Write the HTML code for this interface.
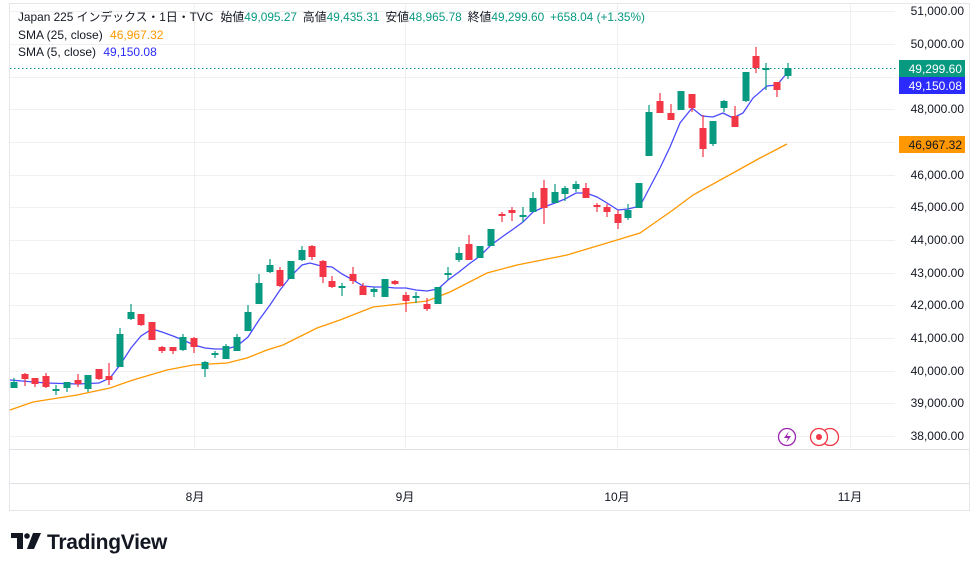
<!DOCTYPE html>
<html><head><meta charset="utf-8"><style>
body{margin:0;background:#fff;width:980px;height:571px;overflow:hidden;font-family:"Liberation Sans","Noto Sans CJK JP",sans-serif}
svg{display:block}
text{font-family:"Liberation Sans","Noto Sans CJK JP",sans-serif}
</style></head><body>
<svg width="980" height="571" viewBox="0 0 980 571" xmlns="http://www.w3.org/2000/svg">
<rect x="9.5" y="3.5" width="960" height="507" fill="#fff" stroke="#e6e6ea"/>
<g stroke="#f0f0f3" stroke-width="1">
<line x1="10" x2="895" y1="11.5" y2="11.5"/><line x1="10" x2="895" y1="44.5" y2="44.5"/><line x1="10" x2="895" y1="77.5" y2="77.5"/><line x1="10" x2="895" y1="109.5" y2="109.5"/><line x1="10" x2="895" y1="142.5" y2="142.5"/><line x1="10" x2="895" y1="175.5" y2="175.5"/><line x1="10" x2="895" y1="207.5" y2="207.5"/><line x1="10" x2="895" y1="240.5" y2="240.5"/><line x1="10" x2="895" y1="273.5" y2="273.5"/><line x1="10" x2="895" y1="305.5" y2="305.5"/><line x1="10" x2="895" y1="338.5" y2="338.5"/><line x1="10" x2="895" y1="371.5" y2="371.5"/><line x1="10" x2="895" y1="403.5" y2="403.5"/><line x1="10" x2="895" y1="436.5" y2="436.5"/>
<line x1="194.5" x2="194.5" y1="4" y2="449"/><line x1="405.5" x2="405.5" y1="4" y2="449"/><line x1="617.5" x2="617.5" y1="4" y2="449"/><line x1="850.5" x2="850.5" y1="4" y2="449"/>
</g>
<line x1="10" x2="969" y1="449.5" y2="449.5" stroke="#e0e0e6"/>
<line x1="10" x2="969" y1="483.5" y2="483.5" stroke="#e0e0e6"/>
<polyline fill="none" stroke="#ff9800" stroke-width="1.3" points="10,410 33,402 77,395 110,388 133,380 167,370 193,365 227,363 247,358 267,350 283,345 317,328 340,320 373,307 427,301 450,292 487,273 517,265 567,255 617,240 640,233 673,210 693,195 733,173 760,158 787,144"/>
<polyline fill="none" stroke="#4a4aff" stroke-width="1.3" points="10,380 46,383 78,384 99,383 110,378 120,365 131,348 141,336 152,329 162,332 173,336 183,340 194,345 205,348 215,349 226,349 237,346 248,337 259,320 270,305 280,290 291,276 302,265 310,263 321,266 332,267 342,274 353,280 363,286 374,287 385,287 395,288 406,288 416,290 427,291 438,289 448,280 459,272 469,264 480,256 491,245 502,237 512,230 523,222 533,212 544,207 555,203 565,199 576,193 586,193 597,197 607,203 618,210 628,209 640,206 650,187 660,168 670,147 680,123 692,108 702,116 713,117 723,113 733,118 743,113 753,98 767,86 777,85 787,73"/>
<line x1="10" x2="897" y1="68.5" y2="68.5" stroke="#089981" stroke-dasharray="1.5,2.5"/>
<g id="c"></g>
<g font-size="12" fill="#131722" text-anchor="end">
<text x="964" y="15">51,000.00</text><text x="964" y="48">50,000.00</text><text x="964" y="113">48,000.00</text><text x="964" y="179">46,000.00</text><text x="964" y="211">45,000.00</text><text x="964" y="244">44,000.00</text><text x="964" y="277">43,000.00</text><text x="964" y="309">42,000.00</text><text x="964" y="342">41,000.00</text><text x="964" y="375">40,000.00</text><text x="964" y="407">39,000.00</text><text x="964" y="440">38,000.00</text>
</g>
<rect x="899" y="60" width="66" height="17" fill="#089981"/><text x="962" y="73" font-size="12" fill="#fff" text-anchor="end">49,299.60</text>
<rect x="899" y="77" width="66" height="17" fill="#2b2bff"/><text x="962" y="90" font-size="12" fill="#fff" text-anchor="end">49,150.08</text>
<rect x="899" y="136" width="66" height="17" fill="#ff9800"/><text x="962" y="149" font-size="12" fill="#131722" text-anchor="end">46,967.32</text>
<circle cx="787" cy="437" r="8.5" fill="#fff" stroke="#9c27b0" stroke-width="1.3"/>
<path d="M789 431 L784 438 L788 438 L786 443 L791 436 L787 436 Z" fill="#9c27b0"/>
<circle cx="830" cy="437" r="8.5" fill="#fff" stroke="#f23645" stroke-width="1.3"/>
<circle cx="819" cy="437" r="8.5" fill="#fff" stroke="#f23645" stroke-width="1.3"/>
<circle cx="819" cy="437" r="3" fill="#f23645"/>
<g font-size="12" fill="#131722" text-anchor="middle">
<text x="195" y="501">8月</text><text x="405" y="501">9月</text><text x="617" y="501">10月</text><text x="850" y="501">11月</text>
</g>
<g font-size="12">
<text x="18" y="21" fill="#131722" textLength="627" lengthAdjust="spacingAndGlyphs">Japan 225 インデックス・1日・TVC <tspan dx="4">始値</tspan><tspan fill="#089981">49,095.27</tspan><tspan dx="6">高値</tspan><tspan fill="#089981">49,435.31</tspan><tspan dx="6">安値</tspan><tspan fill="#089981">48,965.78</tspan><tspan dx="6">終値</tspan><tspan fill="#089981">49,299.60</tspan><tspan dx="6" fill="#089981">+658.04 (+1.35%)</tspan></text>
<text x="18" y="39" fill="#131722">SMA (25, close) <tspan dx="4" fill="#ff9800">46,967.32</tspan></text>
<text x="18" y="56" fill="#131722">SMA (5, close) <tspan dx="4" fill="#2b2bff">49,150.08</tspan></text>
</g>
<g fill="#131722">
<path d="M11 533 H23 V549 H17 V538 H11 Z"/><circle cx="27" cy="536" r="2.8"/><path d="M33 533 H41 L34 549 H27 Z"/>
<text x="47" y="549" font-size="21" font-weight="bold" letter-spacing="-0.3">TradingView</text>
</g>
</svg>
<script>
var d=[[14,1,382,388,378,388],[25,0,374,379,373,386],[35,0,378,384,378,387],[46,0,376,387,373,388],[56,1,389,391,385,395],[67,1,382,388,382,392],[78,0,380,384,374,387],[88,1,375,389,375,392],[99,0,369,379,369,380],[109,0,376,380,363,385],[120,1,334,367,328,367],[131,1,312,319,304,320],[141,0,314,325,314,326],[152,0,322,340,322,340],[162,0,347,351,346,353],[173,0,347,351,347,354],[183,1,337,350,334,351],[194,0,338,347,337,353],[205,1,362,369,361,377],[215,1,353,355,351,358],[226,1,346,359,344,359],[237,1,337,351,334,351],[248,1,312,331,305,331],[259,1,283,304,274,304],[270,1,265,272,259,273],[280,0,270,286,267,287],[291,1,261,279,261,279],[302,1,250,260,246,261],[312,0,246,257,245,260],[323,0,261,277,260,283],[332,0,281,287,276,288],[342,1,286,288,283,296],[353,0,274,281,267,284],[363,0,286,295,283,295],[374,1,289,292,287,297],[385,1,279,297,279,297],[395,0,281,284,280,285],[406,0,295,301,292,312],[416,1,296,298,292,303],[427,0,304,309,298,311],[438,1,287,304,287,304],[448,1,273,275,267,280],[459,1,253,260,247,262],[469,0,244,260,235,260],[480,1,246,258,246,258],[491,1,229,246,229,246],[502,0,214,216,212,222],[512,0,210,213,207,221],[523,1,215,217,207,222],[533,1,198,212,192,212],[544,0,188,208,180,224],[555,1,192,203,184,203],[565,1,188,194,186,201],[576,1,184,189,181,192],[586,0,188,198,183,198],[597,0,205,207,203,212],[607,0,207,212,204,217],[618,0,214,223,210,229],[628,1,210,218,204,220],[639,1,183,208,183,208],[649,1,112,156,105,156],[660,0,101,113,93,113],[671,0,113,120,104,120],[681,1,91,110,91,110],[692,0,94,108,94,112],[703,0,128,149,115,157],[713,1,121,144,121,146],[724,1,101,108,100,112],[735,0,116,127,106,127],[746,1,72,101,72,102],[756,0,56,68,47,73],[766,1,68,70,63,90],[777,0,82,90,82,97],[788,1,68,76,63,79]];
var g=document.getElementById('c'),s='';
d.forEach(function(c){var col=c[1]?'#089981':'#f23645';var h=Math.max(c[3]-c[2],1.5);
s+='<line x1="'+c[0]+'" x2="'+c[0]+'" y1="'+c[4]+'" y2="'+c[5]+'" stroke="'+col+'" stroke-width="1.2"/>';
s+='<rect x="'+(c[0]-3.5)+'" y="'+c[2]+'" width="7" height="'+h+'" fill="'+col+'"/>';});
g.innerHTML=s;
</script>
</body></html>
